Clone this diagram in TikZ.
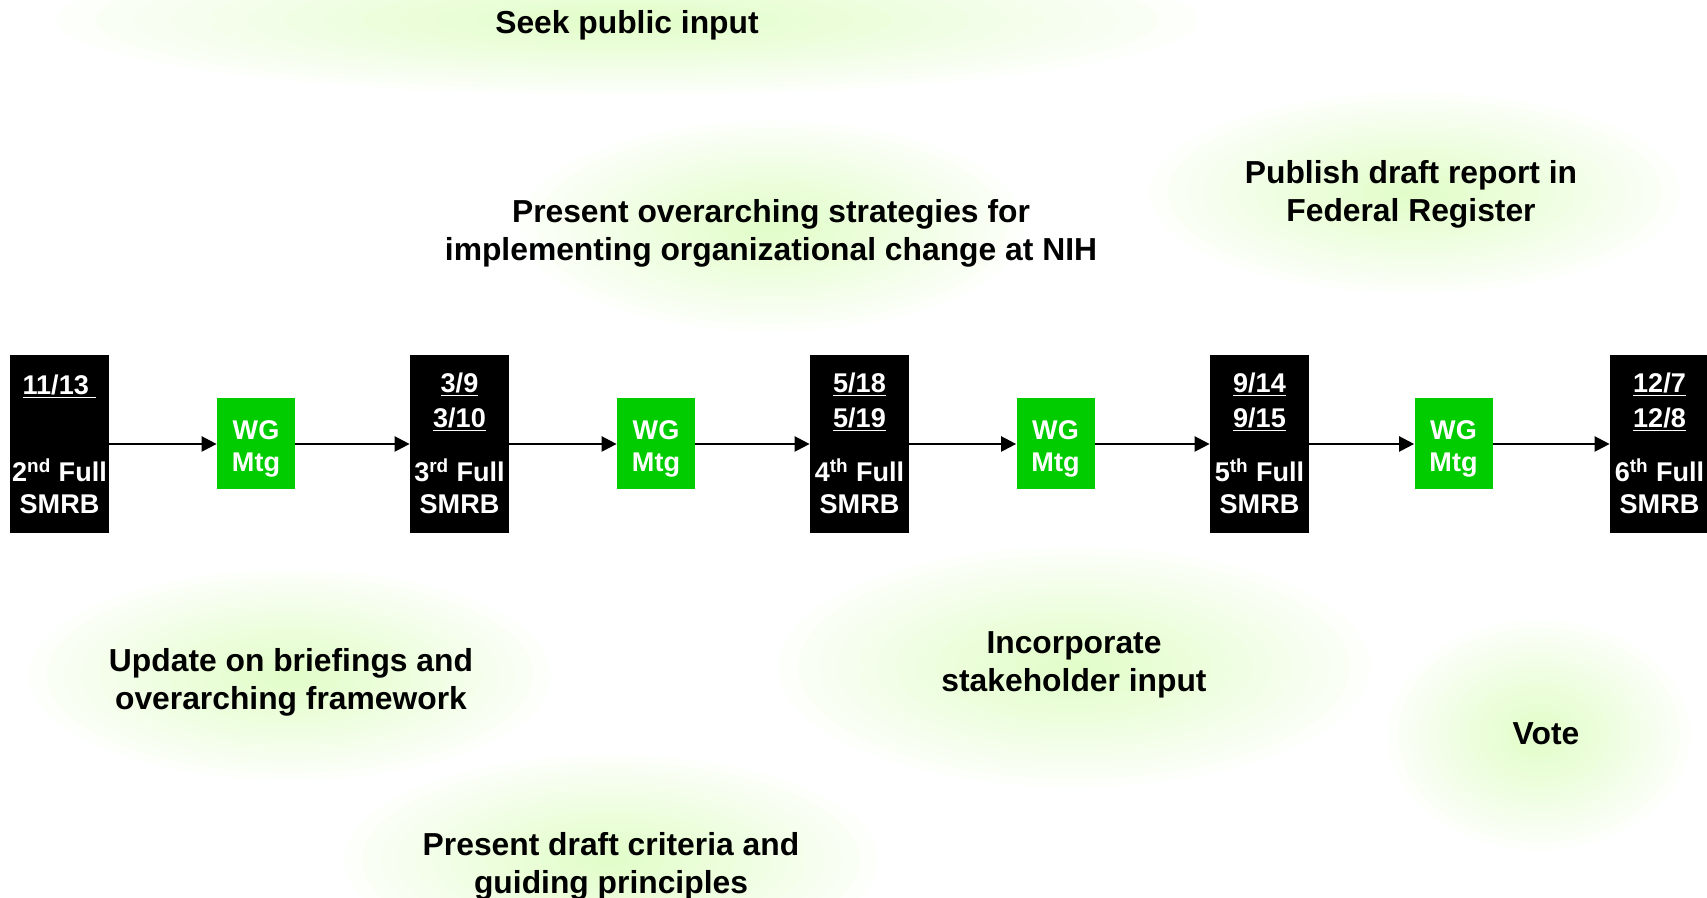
\documentclass[tikz,border=0pt]{standalone}
\usepackage{fontspec}
\setmainfont{Liberation Sans}
\usetikzlibrary{arrows.meta}
\definecolor{wggreen}{RGB}{0,204,0}
\definecolor{glowgreen}{RGB}{180,250,115}
\newcommand{\glowspot}[4]{%
  \foreach \k in {1,...,15}
    \fill[glowgreen, fill opacity=0.03] (#1,#2) ellipse ({#3*\k/15} and {#4*\k/15});}
\tikzset{
  meeting/.style={fill=black, minimum width=1.98cm, minimum height=3.56cm, inner sep=0pt},
  wgbox/.style={fill=wggreen, minimum width=1.56cm, minimum height=1.82cm, inner sep=0pt},
  boxtext/.style={text=white, align=center, inner sep=0pt, font=\fontsize{15.4}{18.3}\selectfont\bfseries},
  datetext/.style={boxtext, font=\fontsize{15.4}{19.9}\selectfont\bfseries},
  goal/.style={align=center, inner sep=0pt, font=\fontsize{18.1}{21.6}\selectfont\bfseries}
}
\begin{document}
\begin{tikzpicture}
      \useasboundingbox (0,0) rectangle (34.14,17.96);
      \glowspot{12.54}{17.56}{11.4}{1.5}
      \glowspot{15.44}{13.44}{5.04}{2.1}
      \glowspot{28.3}{14.1}{5.3}{2.0}
      \glowspot{5.8}{4.46}{5.22}{2.1}
      \glowspot{12.22}{0.76}{5.34}{2.1}
      \glowspot{21.48}{4.62}{5.92}{2.4}
      \glowspot{30.78}{3.26}{3.02}{2.3}
      \draw
        (12.54,17.46) node[goal] (seek){Seek public input}
        (15.42,13.3) node[goal] (strategy){Present overarching strategies for\\implementing organizational change at NIH}
        (28.22,14.08) node[goal] (publish){Publish draft report in\\Federal Register}
        (5.82,4.32) node[goal] (update){Update on briefings and\\overarching framework}
        (12.22,0.64) node[goal] (criteria){Present draft criteria and\\guiding principles}
        (21.48,4.67) node[goal] (incorporate){Incorporate\\stakeholder input}
        (30.92,3.28) node[goal] (vote){Vote};
      \draw
        (1.19,9.08) node[meeting] (m2){}
        (9.19,9.08) node[meeting] (m3){}
        (17.19,9.08) node[meeting] (m4){}
        (25.19,9.08) node[meeting] (m5){}
        (33.19,9.08) node[meeting] (m6){}
        (5.12,9.08) node[wgbox] (wg1){}
        (13.12,9.08) node[wgbox] (wg2){}
        (21.11,9.08) node[wgbox] (wg3){}
        (29.07,9.08) node[wgbox] (wg4){};
      \draw
        (5.12,8.98) node[boxtext] (t1){WG\\Mtg}
        (13.12,8.98) node[boxtext] (t2){WG\\Mtg}
        (21.11,8.98) node[boxtext] (t3){WG\\Mtg}
        (29.07,8.98) node[boxtext] (t4){WG\\Mtg}
        (1.19,10.23) node[datetext] (d2){\underline{11/13\ }}
        (9.19,9.92) node[datetext] (d3){\underline{3/9}\\\underline{3/10}}
        (17.19,9.92) node[datetext] (d4){\underline{5/18}\\\underline{5/19}}
        (25.19,9.92) node[datetext] (d5){\underline{9/14}\\\underline{9/15}}
        (33.19,9.92) node[datetext] (d6){\underline{12/7}\\\underline{12/8}}
        (1.19,8.23) node[boxtext] (n2){2\textsuperscript{nd} Full\\SMRB}
        (9.19,8.23) node[boxtext] (n3){3\textsuperscript{rd} Full\\SMRB}
        (17.19,8.23) node[boxtext] (n4){4\textsuperscript{th} Full\\SMRB}
        (25.19,8.23) node[boxtext] (n5){5\textsuperscript{th} Full\\SMRB}
        (33.19,8.23) node[boxtext] (n6){6\textsuperscript{th} Full\\SMRB};
      \begin{scope}[-{Triangle[length=0.3cm,width=0.3cm]}, line width=1.3pt]
        \draw (m2) to (wg1);
        \draw (wg1) to (m3);
        \draw (m3) to (wg2);
        \draw (wg2) to (m4);
        \draw (m4) to (wg3);
        \draw (wg3) to (m5);
        \draw (m5) to (wg4);
        \draw (wg4) to (m6);
      \end{scope}
    \end{tikzpicture}
\end{document}
